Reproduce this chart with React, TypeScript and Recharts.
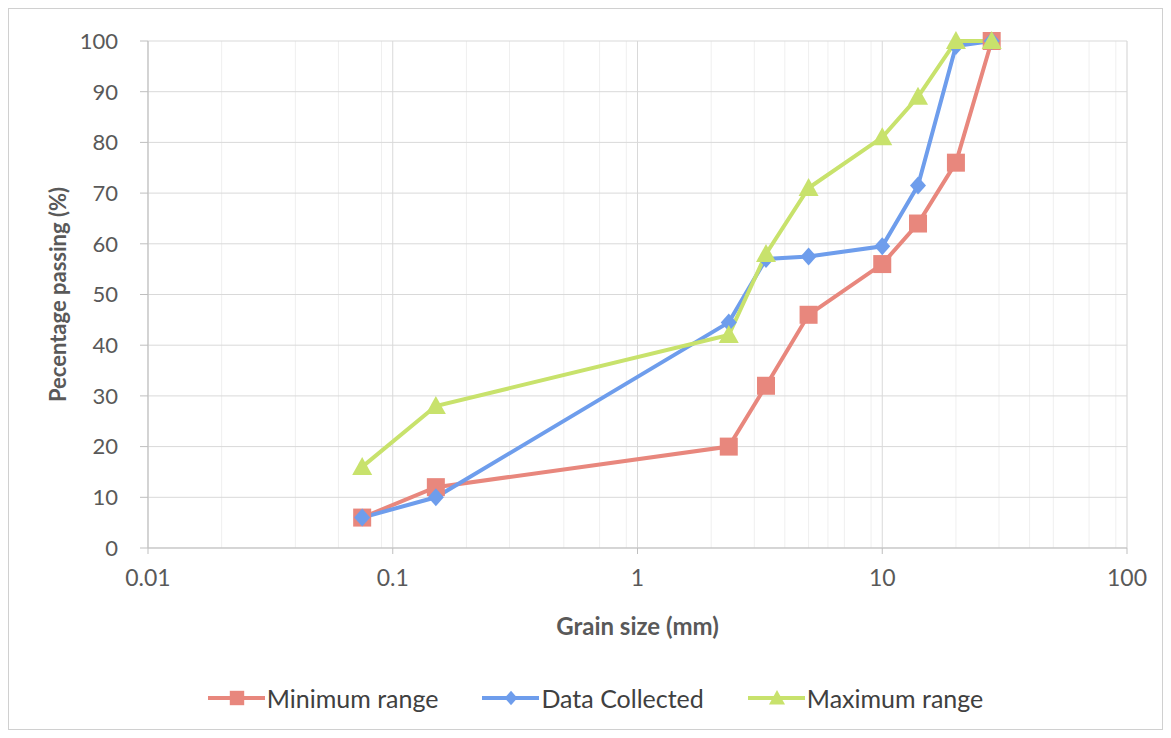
import { ComposedChart, Line, XAxis, YAxis, CartesianGrid, Legend } from 'recharts';

const grainSizes = [0.075, 0.15, 2.36, 3.35, 5, 10, 14, 20, 28];
const minimumRange = [6, 12, 20, 32, 46, 56, 64, 76, 100];
const dataCollected = [6, 10, 44.5, 57, 57.5, 59.5, 71.5, 99, 100];
const maximumRange = [16, 28, 42, 58, 71, 81, 89, 100, 100];

const xTicks = [0.01, 0.1, 1, 10, 100];
const yTicks = [0, 10, 20, 30, 40, 50, 60, 70, 80, 90, 100];
const minorTicks = [0.01, 0.1, 1, 10].flatMap((d) => [2, 3, 4, 5, 6, 7, 8, 9].map((m) => +(d * m).toPrecision(3)));

const data = grainSizes.map((size, i) => ({
  size,
  min: minimumRange[i],
  collected: dataCollected[i],
  max: maximumRange[i],
}));

const RED = '#E8877D';
const BLUE = '#6E9DEC';
const GREEN = '#C8E26C';
const FONT = 'Lato, "Open Sans", sans-serif';

const Square = ({ cx, cy, fill }: any) =>
  cx == null ? null : <rect x={cx - 9} y={cy - 9} width={18} height={18} fill={fill} />;

const Diamond = ({ cx, cy, fill }: any) =>
  cx == null ? null : <path d={`M${cx},${cy - 9}L${cx + 8},${cy}L${cx},${cy + 9}L${cx - 8},${cy}Z`} fill={fill} />;

const Triangle = ({ cx, cy, fill }: any) =>
  cx == null ? null : <path d={`M${cx},${cy - 10}L${cx + 10},${cy + 8}L${cx - 10},${cy + 8}Z`} fill={fill} />;

const legendItems = [
  { name: 'Minimum range', color: RED, Marker: Square },
  { name: 'Data Collected', color: BLUE, Marker: Diamond },
  { name: 'Maximum range', color: GREEN, Marker: Triangle },
];

const renderLegend = () => (
  <div style={{ display: 'flex', justifyContent: 'center', gap: 44, marginLeft: 56, fontFamily: FONT, fontSize: 25, color: '#404040', height: 40, alignItems: 'center' }}>
    {legendItems.map(({ name, color, Marker }) => (
      <div key={name} style={{ display: 'flex', alignItems: 'center' }}>
        <svg width={57} height={24}>
          <line x1={0} y1={12} x2={57} y2={12} stroke={color} strokeWidth={4} />
          <g transform="translate(5.8,2.4) scale(0.8)">
            <Marker cx={29} cy={12} fill={color} />
          </g>
        </svg>
        <span style={{ marginLeft: 2 }}>{name}</span>
      </div>
    ))}
  </div>
);

const YTitle = ({ viewBox }: any) => {
  const x = 49;
  const y = viewBox.y + viewBox.height / 2;
  return (
    <text x={x} y={y} transform={`rotate(-90 ${x} ${y})`} textAnchor="middle" dominantBaseline="central" fontFamily={FONT} fontWeight="bold" fontSize={22} fill="#595959">
      Pecentage passing (%)
    </text>
  );
};

const XTitle = ({ viewBox }: any) => (
  <text x={viewBox.x + viewBox.width / 2} y={617} textAnchor="middle" dominantBaseline="central" fontFamily={FONT} fontWeight="bold" fontSize={24} fill="#595959">
    Grain size (mm)
  </text>
);

export default function App() {
  return (
    <div style={{ position: 'relative', width: 1155, height: 722 }}>
      <ComposedChart width={1155} height={722} data={data} margin={{ top: 33, right: 36, left: 0, bottom: 12 }}>
        <XAxis xAxisId="minor" dataKey="size" type="number" scale="log" domain={[0.01, 100]} ticks={minorTicks} hide allowDataOverflow />
        <CartesianGrid xAxisId="minor" horizontal={false} stroke="#efefef" strokeWidth={1} />
        <CartesianGrid stroke="#d9d9d9" strokeWidth={1} />
        <XAxis
          dataKey="size"
          type="number"
          scale="log"
          domain={[0.01, 100]}
          ticks={xTicks}
          allowDataOverflow
          height={130}
          interval={0}
          tickFormatter={(v) => String(v)}
          tick={{ fontFamily: FONT, fontSize: 23, fill: '#595959' }}
          tickSize={6}
          tickMargin={16}
          stroke="#bfbfbf"
          label={<XTitle />}
        />
        <YAxis
          type="number"
          domain={[0, 100]}
          ticks={yTicks}
          interval={0}
          width={140}
          tick={{ fontFamily: FONT, fontSize: 22, fill: '#595959' }}
          tickSize={8}
          tickMargin={22}
          stroke="#bfbfbf"
          label={<YTitle />}
        />
        <Legend verticalAlign="bottom" height={40} content={renderLegend} />
        <Line dataKey="min" name="Minimum range" stroke={RED} strokeWidth={4} dot={<Square fill={RED} />} activeDot={false} isAnimationActive={false} />
        <Line dataKey="collected" name="Data Collected" stroke={BLUE} strokeWidth={4} dot={<Diamond fill={BLUE} />} activeDot={false} isAnimationActive={false} />
        <Line dataKey="max" name="Maximum range" stroke={GREEN} strokeWidth={4} dot={<Triangle fill={GREEN} />} activeDot={false} isAnimationActive={false} />
      </ComposedChart>
      <div style={{ position: 'absolute', left: 0, top: 0, width: 1155, height: 722, border: '1px solid #d0d0d0', boxSizing: 'border-box', pointerEvents: 'none' }} />
    </div>
  );
}
